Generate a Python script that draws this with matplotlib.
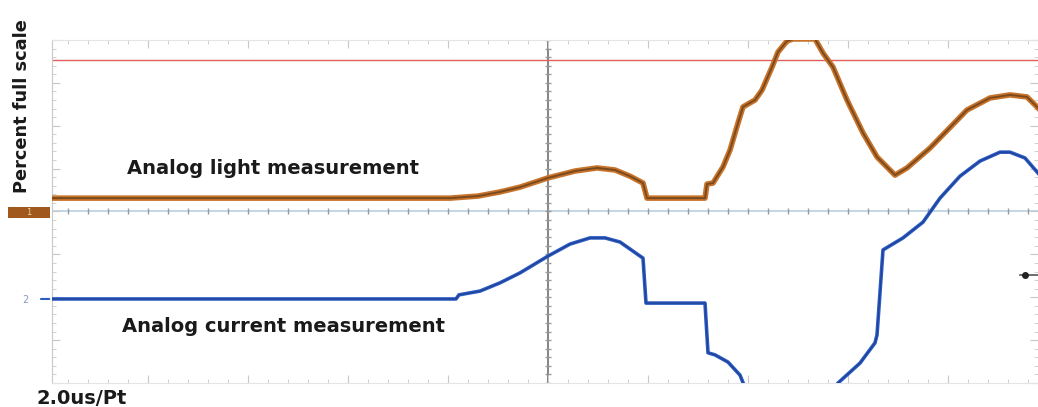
import matplotlib
matplotlib.use("Agg")
import matplotlib.pyplot as plt
from matplotlib.ticker import MultipleLocator
from matplotlib.patches import Rectangle

# scope trace, x in divisions from screen centre, y in percent full scale
light_x = [-4.96, -0.98, -0.70, -0.48, -0.28, 0.0, 0.27, 0.49, 0.67, 0.82, 0.95, 0.99,
           1.57, 1.59, 1.65, 1.75, 1.82, 1.90, 1.95, 2.07, 2.14, 2.24, 2.30, 2.39, 2.45,
           2.67, 2.75, 2.85, 2.99, 3.15, 3.29, 3.47, 3.59, 3.82, 4.19, 4.42, 4.62, 4.79, 4.90]
light_y = [53.9, 53.9, 54.5, 55.7, 57.1, 59.8, 61.8, 62.7, 62.1, 60.3, 58.3, 53.9,
           53.9, 58.0, 58.3, 63.0, 67.9, 75.8, 80.5, 82.5, 85.4, 92.1, 96.5, 99.7, 100.3,
           100.3, 96.2, 92.1, 82.5, 72.9, 65.9, 60.6, 62.7, 68.5, 79.6, 83.1, 84.0, 83.4, 80.2]

current_x = [-4.96, -0.92, -0.89, -0.68, -0.48, -0.28, 0.0, 0.22, 0.42, 0.57, 0.72, 0.95,
             0.98, 1.57, 1.60, 1.67, 1.80, 1.92, 2.00, 2.12, 2.82, 2.90, 3.12, 3.27, 3.29,
             3.35, 3.55, 3.75, 3.92, 4.12, 4.32, 4.52, 4.62, 4.77, 4.90]
current_y = [24.5, 24.5, 25.7, 26.8, 29.2, 32.1, 37.0, 40.5, 42.3, 42.3, 41.1, 36.4,
             23.3, 23.3, 8.8, 8.2, 6.1, 2.3, -3.5, -3.5, -3.5, 0.0, 5.8, 11.7, 14.0,
             38.8, 42.3, 46.9, 53.9, 60.3, 64.7, 67.3, 67.3, 65.6, 61.2]

ref_level = 94.2
centre_level = 50.0
trigger_x = 4.77
trigger_level = 31.5

fig = plt.figure(figsize=(10.38, 4.07), dpi=100)
ax = fig.add_axes([52 / 1038, 24 / 407, 986 / 1038, 343 / 407])
ax.set_xlim(-4.96, 4.90)
ax.set_ylim(0, 100)

grid_col = "#c8c8c8"
for s in ax.spines.values():
    s.set_color("#e4e4e4")
ax.spines["left"].set_color(grid_col)
ax.spines["right"].set_visible(False)

ax.xaxis.set_major_locator(MultipleLocator(1))
ax.xaxis.set_minor_locator(MultipleLocator(0.2))
ax.yaxis.set_major_locator(MultipleLocator(12.5))
ax.yaxis.set_minor_locator(MultipleLocator(2.5))
ax.tick_params(which="both", direction="in", colors=grid_col, labelleft=False,
               labelbottom=False, top=True, right=True)
ax.tick_params(which="major", length=6)
ax.tick_params(which="minor", length=3)

# centre cross-hair with its own ticks
ax.axhline(centre_level, color="#b9cfe0", lw=1.2, zorder=1)
ax.axvline(0, color="#707070", lw=1.2, zorder=1)
minor_x = [i * 0.2 for i in range(-24, 25)]
minor_y = [i * 2.5 for i in range(0, 41)]
ax.plot(minor_x, [centre_level] * len(minor_x), ls="none", marker="|", ms=4,
        color="#9a9a9a", zorder=1)
ax.plot([0] * len(minor_y), minor_y, ls="none", marker="_", ms=4,
        color="#9a9a9a", zorder=1)

ax.axhline(ref_level, color="#e06060", lw=1.0, zorder=2)

ax.plot(light_x, light_y, color="#c8732a", lw=4.0, solid_joinstyle="round", zorder=3)
ax.plot(light_x, light_y, color="#7a4a1e", lw=1.4, zorder=4)
ax.plot(current_x, current_y, color="#2a5bc4", lw=2.6, solid_joinstyle="round", zorder=3)
ax.plot(current_x, current_y, color="#1f3f8f", lw=0.8, zorder=4)

# trigger marker on the right
ax.plot([trigger_x - 0.05, trigger_x + 0.13], [trigger_level] * 2, color="#555555", lw=1.2)
ax.plot([trigger_x], [trigger_level], marker="o", ms=4, color="#222222")

font = ["DejaVu Sans"]
ax.text(-4.21, 62.5, "Analog light measurement", fontsize=14, fontweight="bold",
        family=font, color="#1a1a1a", va="center")
ax.text(-4.26, 16.5, "Analog current measurement", fontsize=14, fontweight="bold",
        family=font, color="#1a1a1a", va="center")

# channel markers outside the grid
fig.patches.append(Rectangle((8 / 1038, 1 - 218 / 407), 42 / 1038, 11 / 407,
                             transform=fig.transFigure, fc="#a0581c", ec="none"))
fig.text(29 / 1038, 1 - 212.5 / 407, "1", fontsize=6, color="#f0d0a0",
         ha="center", va="center")
fig.text(25 / 1038, 1 - 300 / 407, "2", fontsize=7, color="#8a9ac0",
         ha="center", va="center")
ax.annotate("", xy=(0, 24.5), xytext=(-0.014, 24.5),
            xycoords=("axes fraction", "data"), textcoords=("axes fraction", "data"),
            arrowprops=dict(arrowstyle="-", color="#2a5bc4", lw=1.5),
            annotation_clip=False)

fig.text(22 / 1038, 1 - 106 / 407, "Percent full scale", rotation=90, fontsize=12.8,
         fontweight="bold", family=font, color="#1a1a1a", ha="center", va="center")
fig.text(37 / 1038, 1 - 398 / 407, "2.0us/Pt", fontsize=14, fontweight="bold",
         family=font, color="#1a1a1a", ha="left", va="center")

fig.savefig("out.png", dpi=100)
